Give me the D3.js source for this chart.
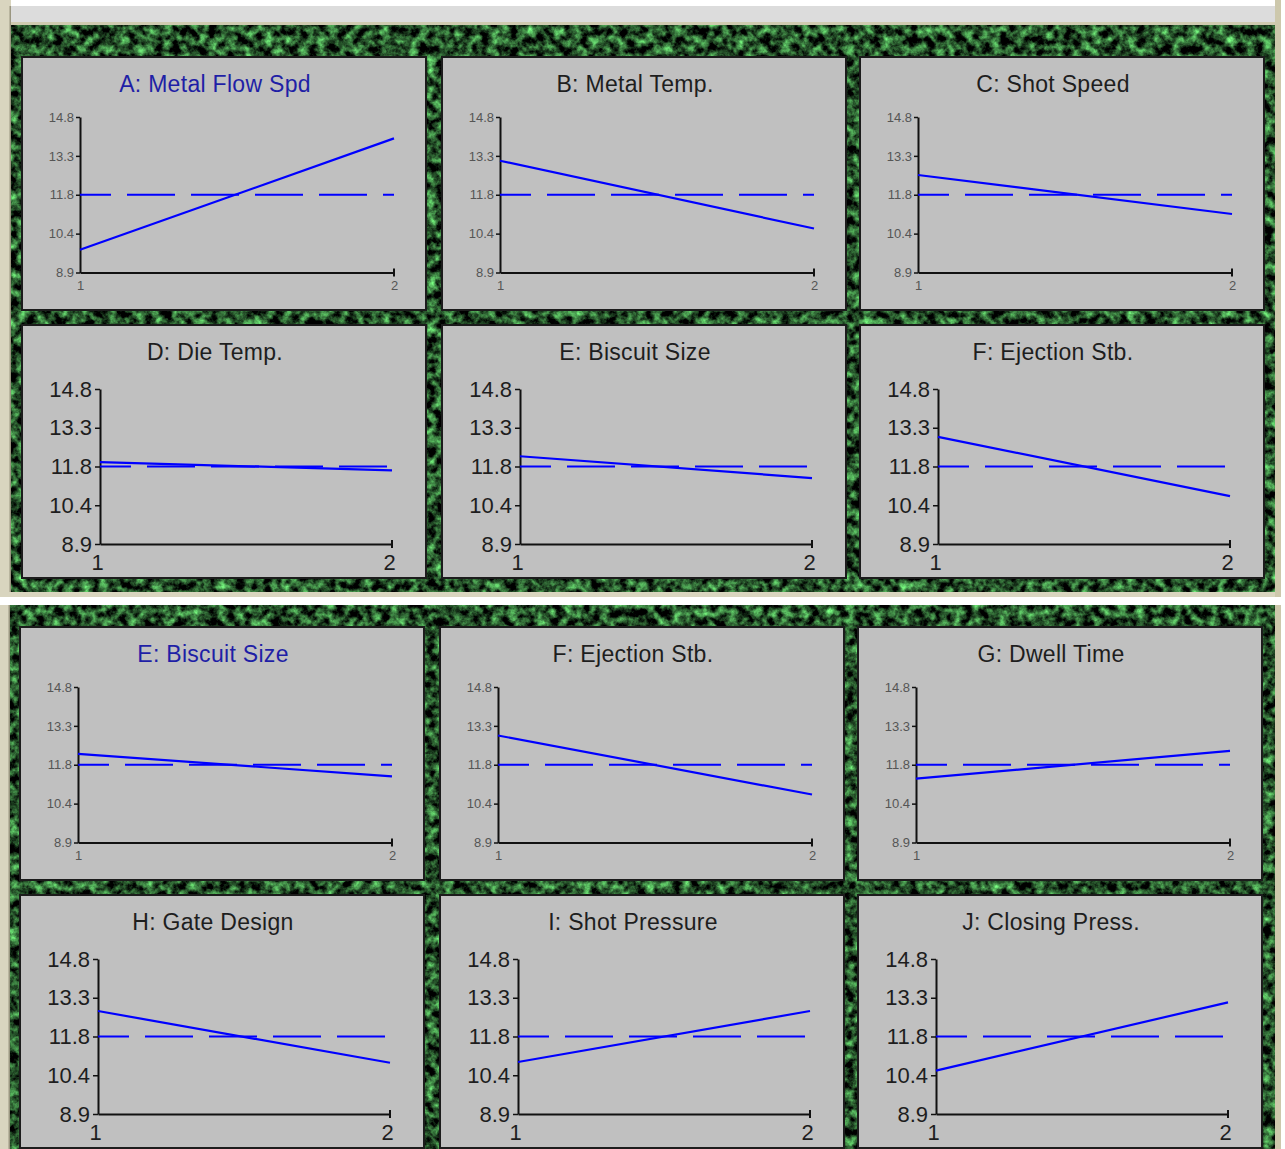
<!DOCTYPE html>
<html>
<head>
<meta charset="utf-8">
<script src="https://cdn.jsdelivr.net/npm/d3@7"></script>
<style>
  html, body { margin: 0; padding: 0; background: #ffffff; }
  svg { display: block; }
  text { font-family: "Liberation Sans", Arial, sans-serif; }
</style>
</head>
<body>
<svg id="chart" width="1285" height="1149"></svg>
<script>
// ---------------- DATA ----------------
const yTickValues = [8.9, 10.375, 11.85, 13.325, 14.8];
const yTickLabels = ["8.9", "10.4", "11.8", "13.3", "14.8"];
const xLevels = [1, 2];
const xTickLabels = ["1", "2"];
const grandMean = 11.85;

// first screenshot (upper)
const screen1Factors = ["A: Metal Flow Spd", "B: Metal Temp.", "C: Shot Speed",
                        "D: Die Temp.", "E: Biscuit Size", "F: Ejection Stb."];
const screen1Level1 = [9.76, 13.14, 12.60, 12.02, 12.24, 12.98];
const screen1Level2 = [13.99, 10.57, 11.12, 11.70, 11.41, 10.72];

// second screenshot (lower)
const screen2Factors = ["E: Biscuit Size", "F: Ejection Stb.", "G: Dwell Time",
                        "H: Gate Design", "I: Shot Pressure", "J: Closing Press."];
const screen2Level1 = [12.26, 12.96, 11.32, 12.82, 10.88, 10.55];
const screen2Level2 = [11.41, 10.72, 12.38, 10.85, 12.82, 13.15];

// ---------------- LAYOUT ----------------
const svg = d3.select("#chart");
const defs = svg.append("defs");

const f = defs.append("filter").attr("id", "marble")
  .attr("x", 0).attr("y", 0).attr("width", "100%").attr("height", "100%")
  .attr("filterUnits", "objectBoundingBox")
  .attr("color-interpolation-filters", "sRGB");
f.append("feTurbulence").attr("type", "fractalNoise")
  .attr("baseFrequency", "0.11").attr("numOctaves", 4).attr("seed", 7).attr("result", "n");
f.append("feColorMatrix").attr("type", "matrix")
  .attr("values", "0.85 0 0 0 -0.28  1.75 0 0 0 -0.56  0.9 0 0 0 -0.29  0 0 0 0 1");

const screens = [
  { factors: screen1Factors, lv1: screen1Level1, lv2: screen1Level2,
    cols: [22, 442, 860], rows: [57, 325],
    chrome: { gx: 11, gy: 25, gw: 1264, gh: 567 }, highlight: 0, top: true },
  { factors: screen2Factors, lv1: screen2Level1, lv2: screen2Level2,
    cols: [20, 440, 858], rows: [627, 895],
    chrome: { gx: 10, gy: 605, gw: 1265, gh: 560 }, highlight: 0, top: false }
];

const panelW = 404, panelH = 253;
const styles = {
  small: { ax: 58, ay0: 60, ay1: 215.5, axr: 372, yFont: 13, yColor: "#555555",
           xFont: 13, xPad: 8, tick: 4, tickPad: 2, xdx: 0 },
  big:   { ax: 78, ay0: 64, ay1: 219, axr: 370, yFont: 22, yColor: "#1e1e1e",
           xFont: 22, xPad: 10, tick: 5, tickPad: 3, xdx: -3 }
};

// white backgrounds & window chrome
svg.append("rect").attr("width", 1285).attr("height", 1149).attr("fill", "#ffffff");

// top window chrome band
svg.append("rect").attr("x", 11).attr("y", 6).attr("width", 1265).attr("height", 16).attr("fill", "#dcdcdc");
svg.append("rect").attr("x", 11).attr("y", 22).attr("width", 1265).attr("height", 3).attr("fill", "#cfcab0");

screens.forEach(s => {
  const c = s.chrome;
  // beige frame strips
  svg.append("rect").attr("x", 0).attr("y", s.top ? 0 : c.gy).attr("width", c.gx)
    .attr("height", s.top ? c.gy + c.gh : c.gh).attr("fill", "#d9d5bf");
  svg.append("rect").attr("x", c.gx - 1.5).attr("y", s.top ? 6 : c.gy).attr("width", 1.5)
    .attr("height", s.top ? c.gy + c.gh - 6 : c.gh).attr("fill", "#9a9680");
  svg.append("rect").attr("x", c.gx + c.gw).attr("y", s.top ? 0 : c.gy).attr("width", 6)
    .attr("height", s.top ? c.gy + c.gh + 5 : c.gh).attr("fill", "#cdc8ac");
  if (s.top) {
    svg.append("rect").attr("x", 0).attr("y", c.gy + c.gh).attr("width", c.gx + c.gw)
      .attr("height", 5).attr("fill", "#d9d5bf");
  }
  // green marble background
  svg.append("rect").attr("x", c.gx).attr("y", c.gy).attr("width", c.gw).attr("height", c.gh)
    .attr("fill", "#1f4a25").attr("filter", "url(#marble)");

  s.factors.forEach((name, i) => {
    const col = i % 3, row = Math.floor(i / 3);
    const px = s.cols[col], py = s.rows[row];
    const st = row === 0 ? styles.small : styles.big;
    const g = svg.append("g").attr("transform", `translate(${px},${py})`);

    g.append("rect").attr("x", 0).attr("y", 0).attr("width", panelW).attr("height", panelH)
      .attr("fill", "#c0c0c0").attr("stroke", "#1c1c1c").attr("stroke-width", 2);

    g.append("text").attr("x", panelW / 2 - 9).attr("y", 35)
      .attr("text-anchor", "middle").attr("font-size", 23).attr("letter-spacing", 0.3)
      .attr("fill", i === s.highlight ? "#1f1fa6" : "#1e1e1e")
      .text(name);

    const x = d3.scaleLinear().domain(d3.extent(xLevels)).range([st.ax, st.axr]);
    const y = d3.scaleLinear().domain([yTickValues[0], yTickValues[yTickValues.length - 1]])
      .range([st.ay1, st.ay0]);

    // y axis
    const yAxis = d3.axisLeft(y).tickValues(yTickValues)
      .tickFormat((d, k) => yTickLabels[k]).tickSize(st.tick).tickSizeOuter(0).tickPadding(st.tickPad);
    const yg = g.append("g").attr("transform", `translate(${st.ax},0)`).call(yAxis);
    yg.select(".domain").attr("stroke", "#111").attr("stroke-width", 2);
    yg.selectAll(".tick line").attr("stroke", "#111").attr("stroke-width", 1.5);
    yg.selectAll(".tick text").attr("font-size", st.yFont).attr("fill", st.yColor)
      .attr("font-family", "Liberation Sans, Arial, sans-serif");

    // x axis
    const xAxis = d3.axisBottom(x).tickValues(xLevels)
      .tickFormat((d, k) => xTickLabels[k]).tickSize(0).tickSizeOuter(0).tickPadding(st.xPad);
    const xg = g.append("g").attr("transform", `translate(0,${st.ay1})`).call(xAxis);
    xg.select(".domain").attr("stroke", "#111").attr("stroke-width", 2);
    xg.selectAll(".tick text").attr("font-size", st.xFont).attr("fill", st.yColor)
      .attr("dx", st.xdx).attr("font-family", "Liberation Sans, Arial, sans-serif");
    // end tick at level 2
    g.append("line").attr("x1", x(xLevels[1])).attr("x2", x(xLevels[1]))
      .attr("y1", st.ay1 - 4).attr("y2", st.ay1 + 4).attr("stroke", "#111").attr("stroke-width", 2);

    // grand mean dashed line
    g.append("line").attr("x1", x(xLevels[0])).attr("x2", x(xLevels[1]))
      .attr("y1", y(grandMean)).attr("y2", y(grandMean))
      .attr("stroke", "#0000ff").attr("stroke-width", 2)
      .attr("stroke-dasharray", "48,16").attr("stroke-dashoffset", 17);

    // main effect line
    const pts = [[xLevels[0], s.lv1[i]], [xLevels[1], s.lv2[i]]];
    g.append("path").datum(pts)
      .attr("d", d3.line().x(d => x(d[0])).y(d => y(d[1])))
      .attr("fill", "none").attr("stroke", "#0000ff").attr("stroke-width", 2.2);
  });
});
</script>
</body>
</html>
